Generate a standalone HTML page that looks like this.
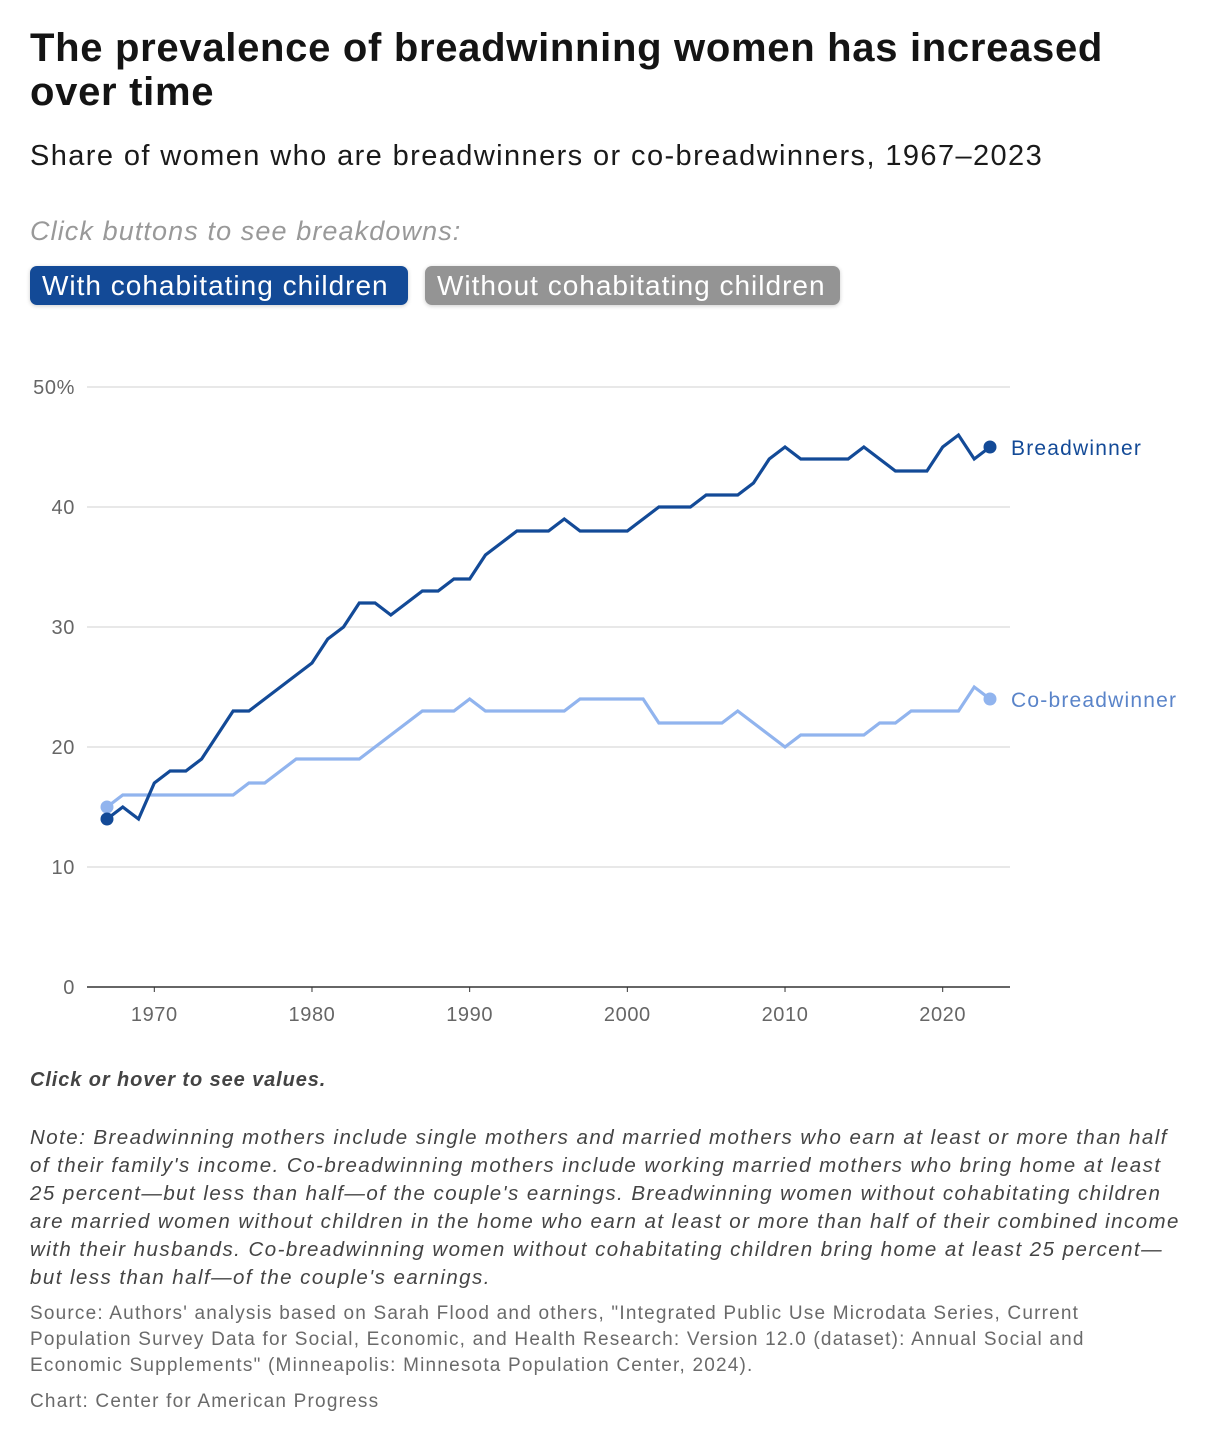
<!DOCTYPE html>
<html><head><meta charset="utf-8">
<style>
body{margin:0;background:#fff;width:1220px;height:1446px;overflow:hidden;font-family:"Liberation Sans",sans-serif;position:relative;color:#111}
.abs{position:absolute;white-space:nowrap}
h1{position:absolute;left:30px;top:26px;margin:0;font-size:40px;line-height:44px;font-weight:bold;letter-spacing:0.7px;color:#141414}
.btn{position:absolute;top:266px;height:39px;border-radius:7px;color:#fff;font-size:28px;line-height:39px;padding:0 12px;letter-spacing:1px;box-shadow:0 1px 4px rgba(0,0,0,.2)}
.note{position:absolute;left:30px;font-size:20.5px;line-height:28px;font-style:italic;color:#444;letter-spacing:1.45px}
.src{position:absolute;left:30px;font-size:19px;line-height:26px;color:#6a6a6a;letter-spacing:1.2px}
</style></head><body>
<h1>The prevalence of breadwinning women has increased<br>over time</h1>
<div class="abs" style="left:30px;top:140px;font-size:29px;letter-spacing:1.4px;color:#1a1a1a">Share of women who are breadwinners or co-breadwinners, 1967–2023</div>
<div class="abs" style="left:30px;top:216px;font-size:27px;letter-spacing:1.1px;font-style:italic;color:#999">Click buttons to see breakdowns:</div>
<div class="btn" style="left:30px;width:354px;background:#134a97">With cohabitating children</div>
<div class="btn" style="left:425px;width:391px;background:#949494">Without cohabitating children</div>

<svg id="chart" width="1220" height="1060" style="position:absolute;left:0;top:0"></svg>

<div class="abs" style="left:30px;top:1069px;font-size:20px;letter-spacing:0.9px;font-weight:bold;font-style:italic;color:#444">Click or hover to see values.</div>
<div class="note" style="top:1124px;width:1155px">Note: Breadwinning mothers include single mothers and married mothers who earn at least or more than half of their family's income. Co-breadwinning mothers include working married mothers who bring home at least 25 percent—but less than half—of the couple's earnings. Breadwinning women without cohabitating children are married women without children in the home who earn at least or more than half of their combined income with their husbands. Co-breadwinning women without cohabitating children bring home at least 25 percent—but less than half—of the couple's earnings.</div>
<div class="src" style="top:1301px;width:1085px">Source: Authors' analysis based on Sarah Flood and others, "Integrated Public Use Microdata Series, Current Population Survey Data for Social, Economic, and Health Research: Version 12.0 (dataset): Annual Social and Economic Supplements" (Minneapolis: Minnesota Population Center, 2024).</div>
<div class="src" style="top:1389px">Chart: Center for American Progress</div>

<script>
const years = [];
for (let y = 1967; y <= 2023; y++) years.push(y);
const breadwinner = [14,15,14,17,18,18,19,21,23,23,24,25,26,27,29,30,32,32,31,32,33,33,34,34,36,37,38,38,38,39,38,38,38,38,39,40,40,40,41,41,41,42,44,45,44,44,44,44,45,44,43,43,43,45,46,44,45];
const coBreadwinner = [15,16,16,16,16,16,16,16,16,17,17,18,19,19,19,19,19,20,21,22,23,23,23,24,23,23,23,23,23,23,24,24,24,24,24,22,22,22,22,22,23,22,21,20,21,21,21,21,21,22,22,23,23,23,23,25,24];
const yTicks = [0,10,20,30,40,50];
const yTickLabels = ["0","10","20","30","40","50%"];
const xTicks = [1970,1980,1990,2000,2010,2020];

const NS = "http://www.w3.org/2000/svg";
const svg = document.getElementById("chart");
const x = yr => 107 + (yr - 1967) * (990 - 107) / 56;
const y = v => 987 - v * 12;
function mk(tag, attrs){const e=document.createElementNS(NS,tag);for(const k in attrs)e.setAttribute(k,attrs[k]);svg.appendChild(e);return e;}

yTicks.forEach((t,i)=>{
  if(t>0){const g=mk("line",{x1:87,x2:1010,y1:y(t),y2:y(t),stroke:"#e0e0e0","stroke-width":1.5});
  
  }
  const l=mk("text",{x:75,y:y(t)+7,"text-anchor":"end","font-size":20,"letter-spacing":0.6,fill:"#666","font-family":"Liberation Sans, sans-serif"});
  l.textContent=yTickLabels[i];
  
  
});
const ax=mk("line",{x1:87,x2:1010,y1:y(0),y2:y(0),stroke:"#333","stroke-width":1.5});


xTicks.forEach(t=>{
  const tk=mk("line",{x1:x(t),x2:x(t),y1:y(0),y2:y(0)+5,stroke:"#333","stroke-width":1});
  
  
  const l=mk("text",{x:x(t),y:1021,"text-anchor":"middle","font-size":20,"letter-spacing":0.6,fill:"#666","font-family":"Liberation Sans, sans-serif"});
  l.textContent=t;
  
  
});
function series(vals,color,name,label,lcolor){
  const p=mk("polyline",{points:vals.map((v,i)=>x(years[i])+","+y(v)).join(" "),fill:"none",stroke:color,"stroke-width":3.2,"stroke-linejoin":"miter"});
  
  
  const last=vals.length-1;
  [0,last].forEach(i=>{const c=mk("circle",{cx:x(years[i]),cy:y(vals[i]),r:6.5,fill:color});
  
  });
  const t=mk("text",{x:x(years[last])+21,y:y(vals[last])+8,"font-size":21,"letter-spacing":1.2,fill:lcolor,"font-family":"Liberation Sans, sans-serif"});
  t.textContent=label;
  
  
}
series(coBreadwinner,"#91b4ee","co-breadwinner","Co-breadwinner","#5a84c9");
series(breadwinner,"#134a97","breadwinner","Breadwinner","#134a97");
</script>
</body></html>
